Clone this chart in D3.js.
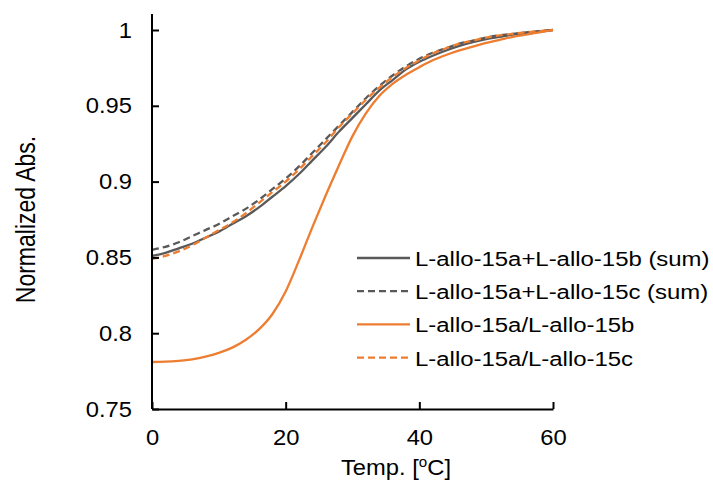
<!DOCTYPE html>
<html>
<head>
<meta charset="utf-8">
<script src="https://cdn.jsdelivr.net/npm/d3@7"></script>
<style>
  body { margin: 0; background: #fff; }
  text { font-family: "Liberation Sans", Arial, sans-serif; fill: #000; }
</style>
</head>
<body>
<div id="chart"></div>
<script>
// temperature (°C)
var temps = [0,2,4,6,8,10,12,14,16,18,20,22,24,26,28,30,32,34,36,38,40,42,44,46,48,50,52,54,56,58,60];

// normalized absorbance
var sumB = [0.851,0.853,0.856,0.859,0.863,0.867,0.872,0.877,0.883,0.890,0.897,0.905,0.914,0.923,0.933,0.942,0.951,0.960,0.967,0.974,0.979,0.983,0.9865,0.9895,0.992,0.994,0.9955,0.997,0.998,0.999,1.000];
var sumC = [0.855,0.857,0.860,0.864,0.868,0.872,0.877,0.882,0.888,0.895,0.902,0.910,0.919,0.928,0.937,0.946,0.955,0.963,0.970,0.976,0.981,0.985,0.988,0.991,0.993,0.995,0.9965,0.9975,0.9985,0.9993,1.000];
var mixB = [0.781,0.7812,0.7818,0.7828,0.7845,0.787,0.7905,0.7955,0.8025,0.8125,0.8275,0.848,0.870,0.891,0.911,0.930,0.945,0.9565,0.9645,0.9705,0.9755,0.980,0.9835,0.9865,0.989,0.9915,0.9935,0.9955,0.997,0.9985,1.000];
var mixC = [0.849,0.851,0.854,0.858,0.863,0.868,0.873,0.879,0.886,0.893,0.900,0.908,0.917,0.926,0.936,0.945,0.954,0.962,0.969,0.975,0.980,0.9845,0.988,0.991,0.993,0.995,0.9965,0.9975,0.9985,0.9993,1.000];

var seriesNames = ["L-allo-15a+L-allo-15b (sum)", "L-allo-15a+L-allo-15c (sum)", "L-allo-15a/L-allo-15b", "L-allo-15a/L-allo-15c"];
var xTicks = [0, 20, 40, 60];
var yTicks = [0.75, 0.8, 0.85, 0.9, 0.95, 1];

var grey = "#595959", orange = "#ed7d31";
var series = [
  {name: seriesNames[0], values: sumB, color: grey, dash: null},
  {name: seriesNames[1], values: sumC, color: grey, dash: "7,4"},
  {name: seriesNames[2], values: mixB, color: orange, dash: null},
  {name: seriesNames[3], values: mixC, color: orange, dash: "7,4"}
];

var svgWidth = 713, svgHeight = 484;
var margin = {top: 30, right: 160, bottom: 75, left: 152};
var width = svgWidth - margin.left - margin.right,
    height = svgHeight - margin.top - margin.bottom;

// the picture is a little wider than tall, text too
var sx = 1.08;

var svg = d3.select("#chart")
  .append("svg")
    .attr("width", svgWidth)
    .attr("height", svgHeight)
  .append("g")
    .attr("transform", `translate(${margin.left},${margin.top})`);

var x = d3.scaleLinear().domain([0, 60]).range([0, width]);
var y = d3.scaleLinear().domain([0.75, 1]).range([height, 0]);

// lines
series.forEach(s => {
  svg.append("path")
    .datum(temps.map((t, i) => [t, s.values[i]]))
    .attr("fill", "none")
    .attr("stroke", s.color)
    .attr("stroke-width", 2.3)
    .attr("stroke-dasharray", s.dash)
    .attr("d", d3.line()
      .x(d => x(d[0]))
      .y(d => y(d[1]))
      .curve(d3.curveMonotoneX));
});

// axes, ticks pointing inward
var xAxis = svg.append("g")
  .attr("transform", `translate(0,${height})`)
  .call(d3.axisBottom(x).tickValues(xTicks).tickSizeInner(-7).tickSizeOuter(0).tickPadding(20));
var yAxis = svg.append("g")
  .call(d3.axisLeft(y).tickValues(yTicks).tickFormat(d => d === 1 ? "1" : d3.format("")(d)).tickSizeInner(-7).tickSizeOuter(0).tickPadding(20));

[xAxis, yAxis].forEach(a => {
  a.select(".domain").attr("stroke", "#000").attr("stroke-width", 2);
  a.selectAll(".tick line").attr("stroke", "#000").attr("stroke-width", 2);
  a.selectAll(".tick text").style("font-size", "22px").attr("fill", "#000");
});
// y axis line runs a bit above 1
yAxis.select(".domain").attr("d", `M0,${height}V-16`);
xAxis.selectAll(".tick text").attr("dy", "0.71em").attr("transform", `scale(${sx},1)`);
yAxis.selectAll(".tick text").attr("x", -20 / sx).attr("transform", `scale(${sx},1)`);

// axis titles
svg.append("text")
  .attr("text-anchor", "middle")
  .attr("transform", `translate(-117,${height / 2}) scale(1.2,1) rotate(-90)`)
  .style("font-size", "23px")
  .text("Normalized Abs.");

var xt = svg.append("text")
  .attr("text-anchor", "middle")
  .attr("transform", `translate(244,${height + 66}) scale(${sx},1)`)
  .style("font-size", "22px");
xt.append("tspan").text("Temp. [");
xt.append("tspan").attr("baseline-shift", "super").style("font-size", "14px").text("o");
xt.append("tspan").text("C]");

// legend
var legend = svg.append("g").attr("transform", `translate(205,228)`);
series.forEach((s, i) => {
  var row = legend.append("g").attr("transform", `translate(0,${i * 33.2})`);
  row.append("line")
    .attr("x1", 0).attr("x2", 53)
    .attr("stroke", s.color)
    .attr("stroke-width", 2.3)
    .attr("stroke-dasharray", s.dash);
  row.append("text")
    .attr("transform", "translate(58,8) scale(1.14,1)")
    .style("font-size", "21px")
    .text(s.name);
});
</script>
</body>
</html>
